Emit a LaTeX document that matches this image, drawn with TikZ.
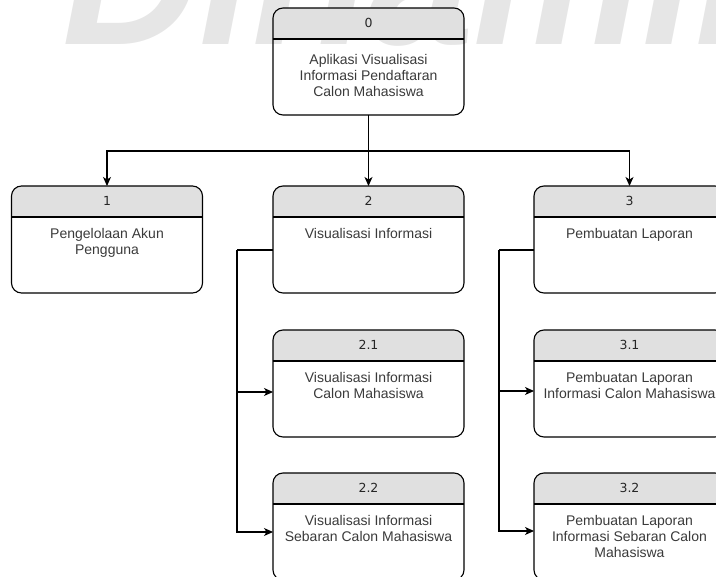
\documentclass[tikz,border=0pt]{standalone}
\usepackage{fontspec}
\setmainfont{Liberation Sans}
\newfontfamily\numfont{DejaVu Sans}
\usetikzlibrary{arrows.meta}
\definecolor{hdrgray}{HTML}{E0E0E0}
\definecolor{txtgray}{HTML}{3A3A3A}
\definecolor{wmgray}{HTML}{E6E6E6}
\begin{document}
\begin{tikzpicture}[x=1pt,y=-1pt,
  proc/.style={draw=black, line width=1.1pt, rounded corners=10pt,
    anchor=north west, minimum width=191pt, minimum height=107pt,
    inner sep=0pt, outer sep=0pt,
    path picture={
      \fill[hdrgray, sharp corners] (path picture bounding box.north west)
        rectangle ([yshift=-31pt]path picture bounding box.north east);
      \draw[black, line width=1.1pt, sharp corners]
        ([yshift=-31pt]path picture bounding box.north west) --
        ([yshift=-31pt]path picture bounding box.north east);
    }},
  hdrtext/.style={font=\numfont\fontsize{12.5}{15}\selectfont, text=black!85, inner sep=0pt},
  bodytext/.style={font=\fontsize{14}{16}\selectfont, text=txtgray, align=center,
    inner sep=0pt, anchor=north},
  conn/.style={draw=black, line width=1.1pt},
  arr/.style={conn, -{Stealth[length=9pt, width=8pt, inset=2.5pt]}},
]
\useasboundingbox (0,0) rectangle (716,577);
\clip (0,0) rectangle (716,577);

% faint watermark behind the chart
\node[font=\fontsize{190}{190}\selectfont\bfseries\itshape, text=wmgray,
  anchor=base west, inner sep=0pt] (wm) at (62,45) {Dinamika};

% process boxes
\node[proc] (b0)  at (273,8)   {};
\node[proc] (b1)  at (11.5,186) {};
\node[proc] (b2)  at (273,186) {};
\node[proc] (b3)  at (534,186) {};
\node[proc] (b21) at (273,330) {};
\node[proc] (b22) at (273,473) {};
\node[proc] (b31) at (534,330) {};
\node[proc] (b32) at (534,473) {};

% header numbers
\node[hdrtext] (n0)  at ([yshift=-15pt]b0.north)  {0};
\node[hdrtext] (n1)  at ([yshift=-15pt]b1.north)  {1};
\node[hdrtext] (n2)  at ([yshift=-15pt]b2.north)  {2};
\node[hdrtext] (n3)  at ([yshift=-15pt]b3.north)  {3};
\node[hdrtext] (n21) at ([yshift=-15pt]b21.north) {2.1};
\node[hdrtext] (n22) at ([yshift=-15pt]b22.north) {2.2};
\node[hdrtext] (n31) at ([yshift=-15pt]b31.north) {3.1};
\node[hdrtext] (n32) at ([yshift=-15pt]b32.north) {3.2};

% body texts
\node[bodytext] (t0)  at ([yshift=-46.5pt]b0.north)  {Aplikasi Visualisasi\\Informasi Pendaftaran\\Calon Mahasiswa};
\node[bodytext] (t1)  at ([yshift=-42.5pt]b1.north)  {Pengelolaan Akun\\Pengguna};
\node[bodytext] (t2)  at ([yshift=-42.5pt]b2.north)  {Visualisasi Informasi};
\node[bodytext] (t3)  at ([yshift=-42.5pt]b3.north)  {Pembuatan Laporan};
\node[bodytext] (t21) at ([yshift=-42.5pt]b21.north) {Visualisasi Informasi\\Calon Mahasiswa};
\node[bodytext] (t22) at ([yshift=-42.5pt]b22.north) {Visualisasi Informasi\\Sebaran Calon Mahasiswa};
\node[bodytext] (t31) at ([yshift=-42.5pt]b31.north) {Pembuatan Laporan\\Informasi Calon Mahasiswa};
\node[bodytext] (t32) at ([yshift=-42.5pt]b32.north) {Pembuatan Laporan\\Informasi Sebaran Calon\\Mahasiswa};

% top level connectors
\coordinate (split) at (b0.south |- 0,151);
\draw[conn] (b0.south) -- (split);
\draw[arr] (split) -| (b1.north);
\draw[arr] (split) -- (b2.north);
\draw[arr] (split) -| (b3.north);

% sub-process connectors of 2
\coordinate (s2) at (237,250);
\draw[conn] ([yshift=-64pt]b2.north west) -- (s2);
\draw[arr] (s2) |- ([yshift=-62pt]b21.north west);
\draw[arr] (s2) |- ([yshift=-59pt]b22.north west);

% sub-process connectors of 3
\coordinate (s3) at (499,250);
\draw[conn] ([yshift=-64pt]b3.north west) -- (s3);
\draw[arr] (s3) |- ([yshift=-61pt]b31.north west);
\draw[arr] (s3) |- ([yshift=-58pt]b32.north west);
\end{tikzpicture}
\end{document}
